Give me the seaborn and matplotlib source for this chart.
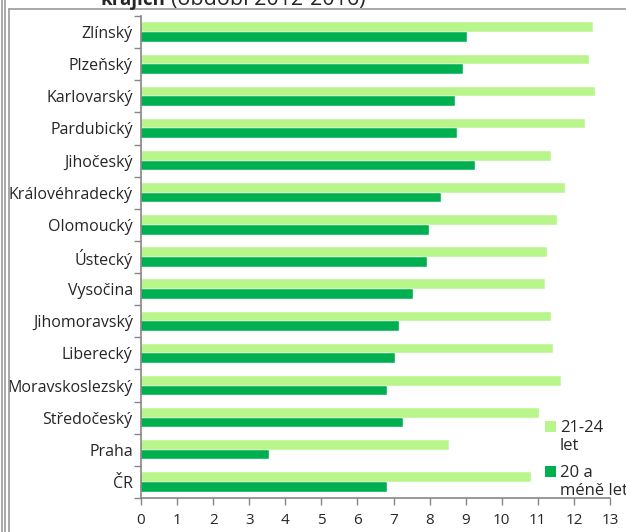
import matplotlib
matplotlib.use("Agg")
import matplotlib.pyplot as plt
import seaborn as sns
import pandas as pd
from matplotlib.lines import Line2D
from matplotlib.patches import Rectangle

regions = ["Zlínský", "Plzeňský", "Karlovarský", "Pardubický", "Jihočeský",
           "Královéhradecký", "Olomoucký", "Ústecký", "Vysočina", "Jihomoravský",
           "Liberecký", "Moravskoslezský", "Středočeský", "Praha", "ČR"]
age_21_24 = [12.53, 12.42, 12.59, 12.31, 11.37, 11.75, 11.53, 11.26, 11.20, 11.37,
             11.42, 11.64, 11.03, 8.54, 10.81]
age_20_less = [9.05, 8.93, 8.71, 8.77, 9.27, 8.32, 7.99, 7.94, 7.55, 7.16,
               7.05, 6.83, 7.27, 3.56, 6.83]
series_names = ["21-24 let", "20 a méně let"]
legend_lines = [["21-24", "let"], ["20 a", "méně let"]]
x_ticks = list(range(0, 14))

df = pd.DataFrame({
    "kraj": regions * 2,
    "hodnota": age_21_24 + age_20_less,
    "skupina": [series_names[0]] * len(regions) + [series_names[1]] * len(regions),
})

sns.set_theme(style="white")
plt.rcParams["font.family"] = ["Open Sans", "DejaVu Sans"]

colors = {series_names[0]: "#B8F58A", series_names[1]: "#00B050"}

W, H = 626, 532
fig = plt.figure(figsize=(W / 100, H / 100), dpi=100)
ax = fig.add_axes([141 / W, (H - 498) / H, (610 - 141) / W, (498 - 16) / H])

sns.barplot(data=df, y="kraj", x="hodnota", hue="skupina", order=regions,
            hue_order=series_names, palette=colors, orient="h", width=0.6,
            saturation=1, edgecolor="white", linewidth=0.3, ax=ax, legend=False)

ax.set_xlim(0, 13)
ax.set_ylim(len(regions) - 0.5, -0.5)
ax.set_xlabel("")
ax.set_ylabel("")

ax.set_xticks(x_ticks)
ax.set_xticklabels([str(t) for t in x_ticks], fontsize=11)
ax.set_yticks([i - 0.5 for i in range(len(regions) + 1)])
ax.set_yticklabels([""] * (len(regions) + 1))
ax.set_yticks(list(range(len(regions))), minor=True)
ax.set_yticklabels(regions, minor=True, fontsize=11.5)
ax.tick_params(axis="y", which="minor", length=0, pad=6)
ax.tick_params(axis="y", which="major", length=5, width=1, color="#868686", left=True)
ax.tick_params(axis="x", which="major", length=5, width=1, color="#868686", bottom=True, pad=6)

for s in ["top", "right"]:
    ax.spines[s].set_visible(False)
for s in ["left", "bottom"]:
    ax.spines[s].set_color("#868686")
    ax.spines[s].set_linewidth(1.2)

# legend (manual, wrapped like the original)
leg_top = [421, 466]
for name, lines, top in zip(series_names, legend_lines, leg_top):
    fig.add_artist(Rectangle((545 / W, 1 - (top + 11) / H), 11 / W, 11 / H,
                             transform=fig.transFigure, facecolor=colors[name],
                             edgecolor="none"))
    fig.text(560 / W, 1 - (top + 11) / H, lines[0], fontsize=12, va="baseline", ha="left")
    fig.text(560 / W, 1 - (top + 29) / H, lines[1], fontsize=12, va="baseline", ha="left")

# Title (partly cut off at top)
fig.text(100 / W, 1 - 5 / H, "krajích", fontsize=13.5, fontweight="bold",
         va="baseline", ha="left")
fig.text(171 / W, 1 - 5 / H, "(období 2012-2016)", fontsize=15.5,
         va="baseline", ha="left")

# frames
gc = "#9A9A9A"
fig.add_artist(Line2D([1.5 / W, 1.5 / W], [0, 1], color=gc, lw=1.2))
fig.add_artist(Line2D([4.5 / W, 4.5 / W], [0, 1], color=gc, lw=1.2))
fig.add_artist(Line2D([8.5 / W, 8.5 / W], [0, 1 - 9 / H], color=gc, lw=1.2))
fig.add_artist(Line2D([8.5 / W, 1], [1 - 9 / H, 1 - 9 / H], color=gc, lw=1.2))

fig.savefig("out.png", dpi=100)
